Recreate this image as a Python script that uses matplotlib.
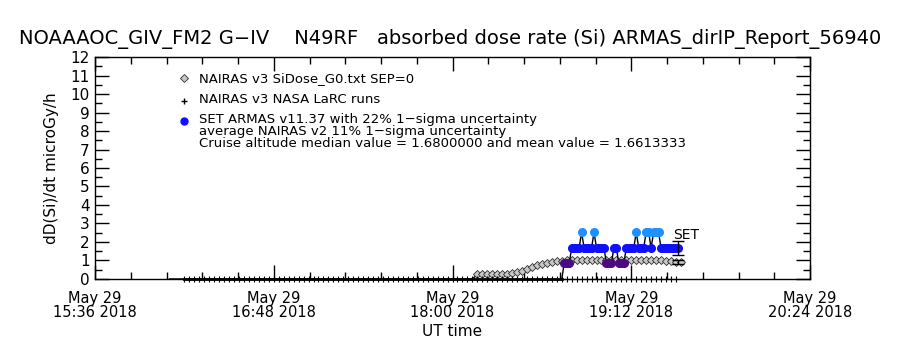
import numpy as np
import matplotlib
matplotlib.use("Agg")
import matplotlib.pyplot as plt

# time axis in minutes after 15:36 UT, May 29 2018
tick_min = [0, 72, 144, 216, 288]
tick_labels = ["May 29\n15:36 2018", "May 29\n16:48 2018", "May 29\n18:00 2018",
               "May 29\n19:12 2018", "May 29\n20:24 2018"]

# NAIRAS v3 SiDose (diamonds)
nairas_min = [30, 152, 154, 156, 158, 160, 162, 164, 166, 168, 170, 172, 174, 176,
              178, 180, 182, 184, 186, 188, 190, 192, 194, 196, 198, 200, 202, 204,
              206, 208, 210, 212, 214, 216, 218, 220, 222, 224, 226, 228, 230, 232,
              234, 236]
nairas_val = [0.0, 0.0, 0.25, 0.26, 0.27, 0.27, 0.27, 0.28, 0.28, 0.30, 0.36, 0.45,
              0.55, 0.65, 0.74, 0.82, 0.88, 0.93, 0.96, 0.98, 1.0, 1.0, 1.0, 1.0,
              1.0, 1.0, 1.0, 1.0, 1.0, 1.0, 1.0, 1.0, 1.0, 1.0, 1.0, 1.0, 1.0, 1.0,
              1.0, 1.0, 0.98, 0.95, 0.92, 0.9]

# NAIRAS v3 NASA LaRC runs (plus signs, all zero)
larc_min = list(range(36, 236, 2))
larc_val = [0.0] * len(larc_min)

# SET ARMAS v11.37 dose rate
armas_min = [36, 187, 188, 189, 190, 191, 192, 193, 194, 195, 196, 197, 198, 199,
             200, 201, 202, 203, 204, 205, 206, 207, 208, 209, 210, 211, 212, 213,
             214, 215, 216, 217, 218, 219, 220, 221, 222, 223, 224, 225, 226, 227,
             228, 229, 230, 231, 232, 233, 234, 235]
armas_val = [0.0, 0.0, 0.0, 0.84, 0.84, 0.84, 1.68, 1.68, 1.68, 1.68, 2.52, 1.68,
             1.68, 1.68, 1.68, 2.52, 1.68, 1.68, 1.68, 1.68, 0.84, 0.84, 0.84, 1.68,
             1.68, 0.84, 0.84, 0.84, 1.68, 1.68, 1.68, 1.68, 2.52, 1.68, 1.68, 1.68,
             2.52, 2.52, 1.68, 2.52, 2.52, 2.52, 1.68, 1.68, 1.68, 1.68, 1.68, 1.68,
             1.68, 1.68]

set_median = 1.68
set_err = 0.22
nairas_err = 0.11

fig = plt.figure(figsize=(9, 3.5), dpi=100)
ax = fig.add_axes([0.1056, 0.203, 0.7944, 0.634])

# NAIRAS diamonds
ax.plot(nairas_min, nairas_val, color="black", lw=1, zorder=2)
ax.plot(nairas_min[2:], nairas_val[2:], ls="none", marker="D", ms=4,
        mfc="#c8c8c8", mec="#303030", mew=0.6, zorder=3)

# LaRC plus signs
ax.plot(larc_min, larc_val, ls="none", marker="+", ms=4, color="black",
        mew=0.8, zorder=4, clip_on=False)

# ARMAS line + colored points
ax.plot(armas_min[:3], armas_val[:3], color="black", lw=2, zorder=5, clip_on=False)
ax.plot(armas_min[2:], armas_val[2:], color="black", lw=1, zorder=5)
colors = {0.84: "#4b0a82", 1.68: "#1010ff", 2.52: "#1e90ff"}
for v, c in colors.items():
    t = [m for m, a in zip(armas_min, armas_val) if a == v]
    ax.plot(t, [v] * len(t), ls="none", marker="o", ms=5.5, mfc=c, mec=c, zorder=6)

# error bars at end of flight
ax.errorbar([235], [set_median], yerr=[[set_median * set_err], [set_median * set_err]],
            color="black", lw=1, capsize=4, zorder=7)
ax.errorbar([235], [nairas_val[-1]], yerr=[[nairas_val[-1] * nairas_err], [nairas_val[-1] * nairas_err]],
            color="black", lw=1, capsize=4, zorder=7)
ax.text(233, 2.35, "SET", fontsize=10, va="center", ha="left")

ax.set_xlim(0, 288)
ax.set_ylim(0, 12)
ax.set_xticks(tick_min)
ax.set_xticklabels(tick_labels, fontsize=10, linespacing=0.85)
ax.set_xticks(np.arange(0, 289, 14.4), minor=True)
ax.set_yticks(range(0, 13))
ax.set_yticks(np.arange(0, 12.01, 0.5), minor=True)
ax.tick_params(axis="both", which="major", direction="in", length=10, width=1,
               top=True, right=True, labelsize=11)
ax.tick_params(axis="both", which="minor", direction="in", length=5, width=1,
               top=True, right=True)
ax.tick_params(axis="x", which="major", pad=9, labelsize=10.5)
ax.tick_params(axis="y", which="major", pad=4)
ax.set_xlabel("UT time", fontsize=11, labelpad=3)
ax.set_ylabel("dD(Si)/dt microGy/h", fontsize=11, labelpad=8)
for s in ax.spines.values():
    s.set_linewidth(1)

# legend block
lx = 36
ax.plot([lx], [10.85], ls="none", marker="D", ms=4, mfc="#c8c8c8", mec="#303030", mew=0.6)
ax.text(lx + 6, 10.85, "NAIRAS v3 SiDose_G0.txt SEP=0", fontsize=9.5, va="center")
ax.plot([lx], [9.65], ls="none", marker="+", ms=5, color="black")
ax.text(lx + 6, 9.7, "NAIRAS v3 NASA LaRC runs", fontsize=9.5, va="center")
ax.plot([lx], [8.55], ls="none", marker="o", ms=5, mfc="#1010ff", mec="#1010ff")
ax.text(lx + 6, 8.6, "SET ARMAS v11.37 with 22% 1\u2212sigma uncertainty", fontsize=9.5, va="center")
ax.text(lx + 6, 7.95, "average NAIRAS v2 11% 1\u2212sigma uncertainty", fontsize=9.5, va="center")
ax.text(lx + 6, 7.3, "Cruise altitude median value = 1.6800000 and mean value = 1.6613333",
        fontsize=9.5, va="center")

fig.text(0.5, 0.875, "NOAAAOC_GIV_FM2 G\u2212IV    N49RF   absorbed dose rate (Si) ARMAS_dirIP_Report_56940",
         ha="center", fontsize=14)

fig.savefig("out.png", dpi=100)
